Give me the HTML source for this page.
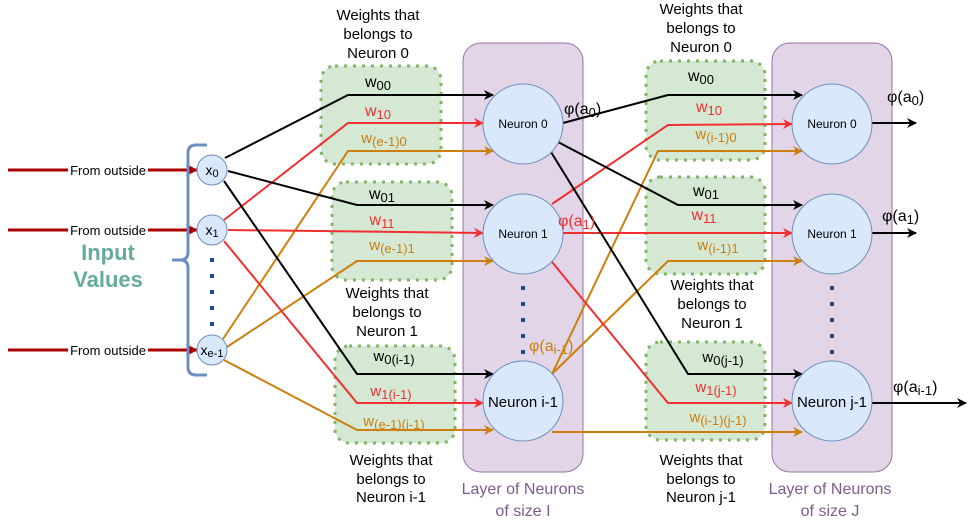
<!DOCTYPE html>
<html><head><meta charset="utf-8"><style>
html,body{margin:0;padding:0;background:#fff;}
svg{display:block;font-family:"Liberation Sans",sans-serif;}
</style></head><body>
<svg width="977" height="522" viewBox="0 0 977 522" xmlns="http://www.w3.org/2000/svg">
<defs>
<marker id="ak" markerWidth="10" markerHeight="10" refX="9" refY="5" orient="auto" markerUnits="userSpaceOnUse"><path d="M0,0 L10,5 L0,10 L3,5 z" fill="#000"/></marker>
<marker id="ar" markerWidth="10" markerHeight="10" refX="9" refY="5" orient="auto" markerUnits="userSpaceOnUse"><path d="M0,0 L10,5 L0,10 L3,5 z" fill="#f03030"/></marker>
<marker id="ao" markerWidth="10" markerHeight="10" refX="9" refY="5" orient="auto" markerUnits="userSpaceOnUse"><path d="M0,0 L10,5 L0,10 L3,5 z" fill="#cc7f0e"/></marker>
<marker id="ad" markerWidth="12" markerHeight="12" refX="11" refY="6" orient="auto" markerUnits="userSpaceOnUse"><path d="M0,0 L12,6 L0,12 L3,6 z" fill="#a00"/></marker>
</defs>
<rect x="463" y="43" width="120" height="429" rx="18" fill="#e1d5e7" stroke="#9673a6" stroke-width="1"/>
<rect x="772" y="43" width="120" height="429" rx="18" fill="#e1d5e7" stroke="#9673a6" stroke-width="1"/>
<g fill="#d5e8d4" stroke="#82b366" stroke-width="3" stroke-dasharray="3,6">
<rect x="321" y="66" width="120" height="98" rx="14"/>
<rect x="332" y="182" width="120" height="98" rx="14"/>
<rect x="335" y="346" width="120" height="97" rx="14"/>
<rect x="646" y="61" width="119" height="99" rx="14"/>
<rect x="646" y="177" width="119" height="97" rx="14"/>
<rect x="646" y="342" width="119" height="98" rx="14"/>
</g>
<g stroke="#a00" stroke-width="3" fill="none">
<line x1="8" y1="170" x2="197" y2="170" marker-end="url(#ad)"/>
<line x1="8" y1="230" x2="197" y2="230" marker-end="url(#ad)"/>
<line x1="8" y1="350" x2="197" y2="350" marker-end="url(#ad)"/>
</g>
<g font-size="13" text-anchor="middle" fill="#000">
<rect x="68" y="162" width="80" height="16" fill="#fff"/><text x="108" y="175">From outside</text>
<rect x="68" y="222" width="80" height="16" fill="#fff"/><text x="108" y="235">From outside</text>
<rect x="68" y="342" width="80" height="16" fill="#fff"/><text x="108" y="355">From outside</text>
</g>
<text x="108" y="260" font-size="22" font-weight="bold" fill="#67ab9f" text-anchor="middle">Input</text>
<text x="108" y="287" font-size="22" font-weight="bold" fill="#67ab9f" text-anchor="middle">Values</text>
<path d="M207,145 L196,145 Q188,145 188,153 L188,252 Q188,260 180,260 L172,260 L180,260 Q188,260 188,268 L188,367 Q188,375 196,375 L207,375" fill="none" stroke="#6c8ebf" stroke-width="3"/>
<g fill="none" stroke-width="2">
<polyline points="225,158 348,95 493,95" stroke="#000" marker-end="url(#ak)"/>
<polyline points="224,220 348,123 483,123" stroke="#f03030" marker-end="url(#ar)"/>
<polyline points="223,339 348,151 493,151" stroke="#cc7f0e" marker-end="url(#ao)"/>
<polyline points="228,171 357,205 493,205" stroke="#000" marker-end="url(#ak)"/>
<polyline points="228,230 483,233" stroke="#f03030" marker-end="url(#ar)"/>
<polyline points="227,347 357,261 493,261" stroke="#cc7f0e" marker-end="url(#ao)"/>
<polyline points="224,181 357,374 493,374" stroke="#000" marker-end="url(#ak)"/>
<polyline points="224,241 357,403 483,403" stroke="#f03030" marker-end="url(#ar)"/>
<polyline points="224,360 357,430 493,430" stroke="#cc7f0e" marker-end="url(#ao)"/>
<polyline points="563,123 668,95 802,95" stroke="#000" marker-end="url(#ak)"/>
<polyline points="552,204 668,125 792,124" stroke="#f03030" marker-end="url(#ar)"/>
<polyline points="552,374 658,151 802,151" stroke="#cc7f0e" marker-end="url(#ao)"/>
<polyline points="558,142 678,205 802,205" stroke="#000" marker-end="url(#ak)"/>
<polyline points="563,233 792,233" stroke="#f03030" marker-end="url(#ar)"/>
<polyline points="552,374 668,261 802,261" stroke="#cc7f0e" marker-end="url(#ao)"/>
<polyline points="551,152 688,374 802,374" stroke="#000" marker-end="url(#ak)"/>
<polyline points="552,262 668,403 792,403" stroke="#f03030" marker-end="url(#ar)"/>
<polyline points="552,432 802,432" stroke="#cc7f0e" marker-end="url(#ao)"/>
<polyline points="872,123 916,123" stroke="#000" marker-end="url(#ak)"/>
<polyline points="872,233 916,233" stroke="#000" marker-end="url(#ak)"/>
<polyline points="872,403 966,403" stroke="#000" marker-end="url(#ak)"/>
</g>
<g fill="#dae8fc" stroke="#6c8ebf" stroke-width="1">
<circle cx="212" cy="170" r="15"/><circle cx="212" cy="230" r="15"/><circle cx="212" cy="350" r="15"/>
<circle cx="523" cy="124" r="40"/><circle cx="523" cy="234" r="40"/><circle cx="523" cy="401" r="40"/>
<circle cx="832" cy="124" r="40"/><circle cx="832" cy="234" r="40"/><circle cx="832" cy="401" r="40"/>
</g>
<g fill="#1f4e8c">
<rect x="210" y="258" width="4" height="4"/><rect x="210" y="274" width="4" height="4"/><rect x="210" y="290" width="4" height="4"/><rect x="210" y="306" width="4" height="4"/><rect x="210" y="322" width="4" height="4"/>
<rect x="521" y="286" width="4" height="4"/><rect x="521" y="302" width="4" height="4"/><rect x="521" y="318" width="4" height="4"/><rect x="521" y="334" width="4" height="4"/><rect x="521" y="350" width="4" height="4"/>
<rect x="830" y="286" width="4" height="4"/><rect x="830" y="302" width="4" height="4"/><rect x="830" y="318" width="4" height="4"/><rect x="830" y="334" width="4" height="4"/><rect x="830" y="350" width="4" height="4"/>
</g>
<g font-size="14" text-anchor="middle" fill="#000">
<text x="212" y="175">x<tspan font-size="11" dy="2">0</tspan></text>
<text x="212" y="235">x<tspan font-size="11" dy="2">1</tspan></text>
<text x="212" y="355">x<tspan font-size="11" dy="2">e-1</tspan></text>
</g>
<g font-size="12" text-anchor="middle" fill="#000">
<text x="523" y="128">Neuron 0</text><text x="523" y="238">Neuron 1</text>
<text x="832" y="128">Neuron 0</text><text x="832" y="238">Neuron 1</text>
</g>
<g font-size="15" text-anchor="middle" fill="#000">
<text x="523" y="407">Neuron i-1</text><text x="832" y="407">Neuron j-1</text>
</g>
<g font-size="16" text-anchor="middle">
<text x="378" y="87" fill="#000">w<tspan font-size="13" dy="3">00</tspan></text>
<text x="378" y="116" fill="#f03030">w<tspan font-size="13" dy="3">10</tspan></text>
<text x="384" y="143" fill="#cc7f0e" font-size="15">w<tspan font-size="13" dy="3">(e-1)0</tspan></text>
<text x="382" y="199" fill="#000">w<tspan font-size="13" dy="3">01</tspan></text>
<text x="382" y="225" fill="#f03030">w<tspan font-size="13" dy="3">11</tspan></text>
<text x="392" y="250" fill="#cc7f0e" font-size="15">w<tspan font-size="13" dy="3">(e-1)1</tspan></text>
<text x="394" y="361" fill="#000" font-size="15">w<tspan font-size="13" dy="3">0(i-1)</tspan></text>
<text x="391" y="396" fill="#f03030" font-size="15">w<tspan font-size="13" dy="3">1(i-1)</tspan></text>
<text x="394" y="426" fill="#cc7f0e" font-size="15">w<tspan font-size="13" dy="3">(e-1)(i-1)</tspan></text>
<text x="701" y="81" fill="#000">w<tspan font-size="13" dy="3">00</tspan></text>
<text x="709" y="112" fill="#f03030">w<tspan font-size="13" dy="3">10</tspan></text>
<text x="716" y="139" fill="#cc7f0e" font-size="15">w<tspan font-size="13" dy="3">(i-1)0</tspan></text>
<text x="706" y="196" fill="#000">w<tspan font-size="13" dy="3">01</tspan></text>
<text x="704" y="220" fill="#f03030">w<tspan font-size="13" dy="3">11</tspan></text>
<text x="718" y="250" fill="#cc7f0e" font-size="15">w<tspan font-size="13" dy="3">(i-1)1</tspan></text>
<text x="723" y="362" fill="#000" font-size="15">w<tspan font-size="13" dy="3">0(j-1)</tspan></text>
<text x="716" y="392" fill="#f03030" font-size="15">w<tspan font-size="13" dy="3">1(j-1)</tspan></text>
<text x="718" y="422" fill="#cc7f0e" font-size="15">w<tspan font-size="13" dy="3">(i-1)(j-1)</tspan></text>
</g>
<g font-size="16">
<text x="564" y="114" fill="#000">φ(a<tspan font-size="13" dy="3">0</tspan><tspan dy="-3">)</tspan></text>
<text x="558" y="226" fill="#f03030">φ(a<tspan font-size="13" dy="3">1</tspan><tspan dy="-3">)</tspan></text>
<text x="529" y="351" fill="#cc7f0e">φ(a<tspan font-size="13" dy="3">i-1</tspan><tspan dy="-3">)</tspan></text>
<text x="887" y="102" fill="#000">φ(a<tspan font-size="13" dy="3">0</tspan><tspan dy="-3">)</tspan></text>
<text x="882" y="221" fill="#000">φ(a<tspan font-size="13" dy="3">1</tspan><tspan dy="-3">)</tspan></text>
<text x="893" y="392" fill="#000">φ(a<tspan font-size="13" dy="3">i-1</tspan><tspan dy="-3">)</tspan></text>
</g>
<g font-size="15" text-anchor="middle" fill="#000">
<text x="378" y="20">Weights that</text><text x="378" y="39">belongs to</text><text x="378" y="58">Neuron 0</text>
<text x="701" y="14">Weights that</text><text x="701" y="33">belongs to</text><text x="701" y="52">Neuron 0</text>
<text x="387" y="298">Weights that</text><text x="387" y="317">belongs to</text><text x="387" y="336">Neuron 1</text>
<text x="712" y="290">Weights that</text><text x="712" y="309">belongs to</text><text x="712" y="328">Neuron 1</text>
<text x="391" y="465">Weights that</text><text x="391" y="484">belongs to</text><text x="391" y="502">Neuron i-1</text>
<text x="701" y="465">Weights that</text><text x="701" y="484">belongs to</text><text x="701" y="502">Neuron j-1</text>
</g>
<g font-size="16" text-anchor="middle" fill="#7f5a8f">
<text x="523" y="494">Layer of Neurons</text><text x="523" y="516">of size I</text>
<text x="830" y="494">Layer of Neurons</text><text x="830" y="516">of size J</text>
</g>
</svg>
</body></html>
